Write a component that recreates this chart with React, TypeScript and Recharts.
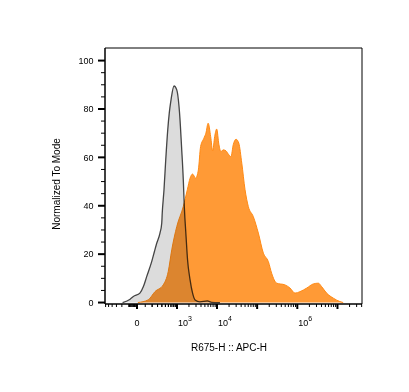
import { AreaChart, Area, XAxis, YAxis, ReferenceLine } from 'recharts'

// histogram channels (0..1024 display scale) and % of mode
const isoChannels = [70, 100, 113, 139, 153, 166, 186, 197, 206, 219, 226, 228, 235, 242, 250, 256, 263, 275, 286, 295, 299, 305, 312, 316, 323, 329, 339, 349, 359, 378, 408, 425, 458]
const isoPct      = [0, 1.4, 2.5, 3.9, 6.6, 10.7, 16.9, 21.1, 24.5, 28.7, 32.8, 36.9, 46.6, 59, 71.4, 78.3, 83.8, 89.5, 87.9, 81, 75.5, 64.5, 50.7, 39.7, 27.3, 17.6, 9.4, 3.9, 1.1, 0.3, 0.7, 0.1, 0]

const stainChannels = [131, 172, 199, 232, 252, 266, 286, 312, 328, 339, 349, 361, 372, 381, 394, 402, 411, 421, 429, 437, 445, 454, 462, 471, 482, 491, 502, 511, 522, 533, 545, 558, 571, 591, 611, 631, 651, 664, 684, 717, 737, 757, 777, 804, 830, 850, 863, 883, 910, 936, 949]
const stainPct      = [0, 1.1, 4.5, 7.3, 12.8, 21.8, 31.4, 39.7, 46.6, 51.4, 53.1, 51.4, 54.8, 64.5, 67.9, 70, 74.1, 68.6, 62.7, 68.6, 71.7, 65.2, 62.4, 63.1, 62.7, 61.4, 60.3, 65.2, 67.5, 65.9, 57.6, 46.6, 39.7, 35.5, 28.7, 20.4, 16.9, 12.1, 8, 7.3, 6, 3.9, 4.5, 6, 7.7, 8, 6.6, 3.9, 1.8, 0.4, 0]

const X_MAJORS = [0, 1e3, 1e4, 1e5, 1e6, 1e7]
const X_LABELS: Record<number, string> = { 0: '0', 1000: '3', 10000: '4', 1000000: '6' }
const Y_MAX = 105.2
const Y_MIN = -0.6

// biexponential-ish display transform used by the cytometer software
const chan = (v: number) => 127.5 + 69.5 * Math.asinh(v / 204)

const xMinors: number[] = []
for (let k = 1; k <= 9; k++) xMinors.push(-k * 10, -k * 100)
for (let d = 100; d <= 1e7; d *= 10) for (let k = 2; k <= 9; k++) xMinors.push(k * d)
for (let k = 1; k <= 9; k++) xMinors.push(k * 100)

const xTicks = [
  ...X_MAJORS.map(v => ({ v, major: true })),
  ...xMinors.map(v => ({ v, major: false })),
].map(t => ({ ...t, c: chan(t.v) })).filter(t => t.c >= 0 && t.c <= 1024).sort((a, b) => a.c - b.c)

const yTicks: number[] = []
for (let v = 0; v <= 100; v += 5) yTicks.push(v)

const rows = [
  ...isoChannels.map((c, i) => ({ ch: c, iso: isoPct[i] })),
  ...stainChannels.map((c, i) => ({ ch: c, stain: stainPct[i] })),
].sort((a, b) => a.ch - b.ch)

const FONT = '"Liberation Sans", Arial, sans-serif'

const XTick = ({ x, y, payload }: any) => {
  const t = xTicks.reduce((best, cur) => Math.abs(cur.c - payload.value) < Math.abs(best.c - payload.value) ? cur : best, xTicks[0])
  const label = t.major ? X_LABELS[t.v] : undefined
  return (
    <g>
      <line x1={x} x2={x} y1={y} y2={y + (t.major ? 5 : 3)} stroke="#000" strokeWidth={t.major ? 2 : 1} />
      {label === '0' && <text x={x} y={y + 22} textAnchor="middle" fontSize={9} fontFamily={FONT} fill="#000">0</text>}
      {label && label !== '0' && (
        <text x={x + 1} y={y + 22} fontSize={9} fontFamily={FONT} fill="#000">
          10<tspan dy={-5} fontSize={7}>{label}</tspan>
        </text>
      )}
    </g>
  )
}

const YTick = ({ x, y, payload }: any) => {
  const major = payload.value % 20 === 0
  return (
    <g>
      <line x1={x - (major ? 7 : 4)} x2={x} y1={y} y2={y} stroke="#000" strokeWidth={major ? 2 : 1} />
      {major && <text x={x - 11.5} y={y + 3.2} textAnchor="end" fontSize={9} fontFamily={FONT} fill="#000">{payload.value}</text>}
    </g>
  )
}

export default function App() {
  return (
    <div style={{ position: 'absolute', left: 0, top: 0, width: 409, height: 392, background: '#fff' }}>
      <style>{`.iso-area path { mix-blend-mode: multiply; }`}</style>
      <AreaChart width={409} height={392} data={rows} margin={{ top: 48, right: 47, bottom: 58, left: 0 }}>
        <XAxis
          dataKey="ch" type="number" domain={[0, 1024]} ticks={xTicks.map(t => t.c)} interval={0}
          height={30} tickSize={0} tickMargin={0} tick={<XTick />} tickLine={false}
          axisLine={{ stroke: '#000', strokeWidth: 1.5 }}
          label={{ content: () => <text x={229} y={351} textAnchor="middle" fontSize={10} fontFamily={FONT} fill="#000">R675-H :: APC-H</text> }}
        />
        <YAxis
          type="number" domain={[Y_MIN, Y_MAX]} ticks={yTicks} interval={0} width={105}
          tickSize={0} tickMargin={0} tick={<YTick />} tickLine={false}
          axisLine={{ stroke: '#000', strokeWidth: 1.5 }}
          label={{ content: () => <text x={60} y={184} transform="rotate(-90 60 184)" textAnchor="middle" fontSize={10} fontFamily={FONT} fill="#000">Normalized To Mode</text> }}
        />
        <ReferenceLine y={Y_MAX} stroke="#000" strokeWidth={1} />
        <ReferenceLine x={1024} stroke="#000" strokeWidth={1} />
        <Area type="monotone" dataKey="stain" connectNulls stroke="#ff8a14" strokeWidth={1} fill="#ff9a36" fillOpacity={1} isAnimationActive={false} dot={false} activeDot={false} />
        <Area className="iso-area" type="monotone" dataKey="iso" connectNulls stroke="#4a4a4a" strokeWidth={1.3} fill="#dcdcdc" fillOpacity={1} isAnimationActive={false} dot={false} activeDot={false} />
      </AreaChart>
    </div>
  )
}
